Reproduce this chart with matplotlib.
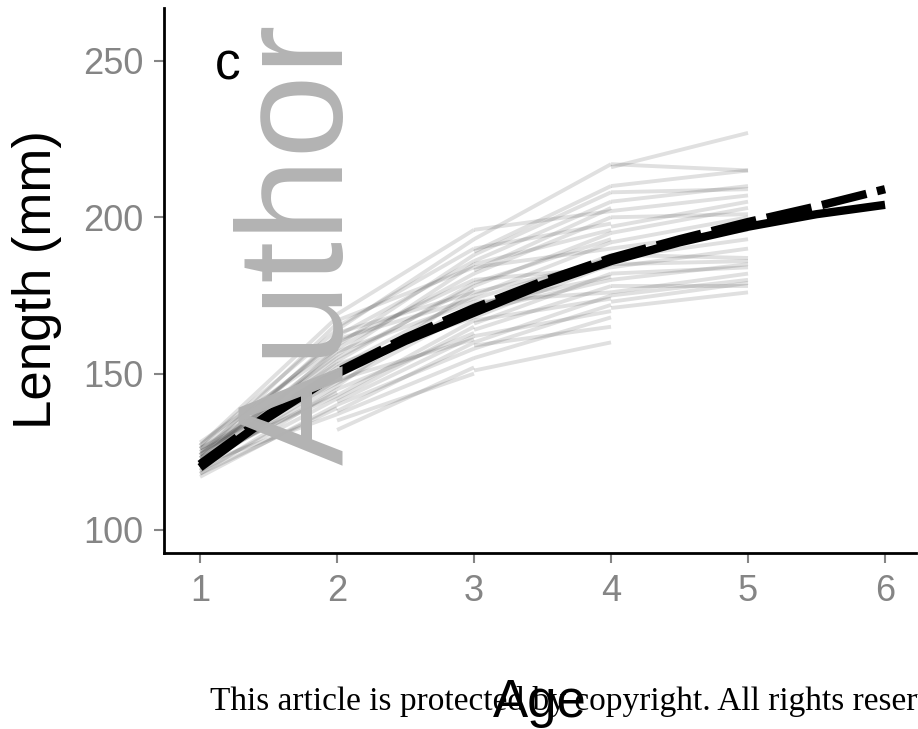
"""Individual back-calculated growth paths with mean growth curves (panel c)."""
import matplotlib

matplotlib.use("Agg")
import matplotlib.pyplot as plt  # noqa: E402

# individual growth segments, one pair of lists per age interval (length in mm)
seg_1_2_start = [117, 118, 119, 120, 120, 121, 122, 122, 123, 124, 124, 125, 126, 126,
                 127, 128, 119, 121, 123, 125, 118, 120, 122, 124, 126, 127, 121, 123]
seg_1_2_end = [140, 145, 152, 148, 158, 137, 150, 162, 143, 155, 166, 147, 160, 153,
               168, 158, 142, 146, 156, 150, 139, 154, 144, 161, 149, 164, 151, 157]

seg_2_3_start = [132, 135, 138, 140, 142, 145, 147, 148, 150, 152, 153, 155, 157, 158, 160,
                 162, 163, 165, 167, 169, 137, 143, 149, 154, 159, 164, 146, 141, 156, 161]
seg_2_3_end = [152, 150, 160, 158, 165, 163, 170, 161, 172, 175, 168, 178, 173, 182, 180,
               186, 176, 190, 184, 196, 155, 167, 171, 179, 188, 193, 177, 162, 185, 174]

seg_3_4_start = [151, 155, 158, 160, 162, 164, 166, 168, 170, 171, 173, 175, 176, 178, 180,
                 182, 184, 186, 188, 190, 193, 196, 167, 174, 179, 185, 159, 172, 183, 189]
seg_3_4_end = [160, 168, 172, 175, 170, 178, 182, 185, 180, 188, 176, 192, 186, 195, 184,
               200, 190, 205, 208, 198, 217, 202, 174, 187, 193, 196, 165, 181, 203, 210]

seg_4_5_start = [171, 173, 175, 176, 178, 180, 182, 184, 185, 187, 188,
                 190, 192, 195, 197, 200, 202, 205, 208, 210, 216, 217]
seg_4_5_end = [176, 179, 180, 182, 178, 185, 184, 190, 186, 193, 187,
               196, 200, 203, 205, 201, 207, 210, 209, 215, 227, 215]

# mean growth curves
curve_age = [1, 1.5, 2, 2.5, 3, 3.5, 4, 4.5, 5, 5.5, 6]
curve_solid = [120, 136, 150, 160.5, 169.5, 178.5, 186, 192, 197, 201, 204]
curve_dashed = [121, 137, 150.5, 161.5, 171, 179.5, 187, 193, 198.5, 203.5, 209]

x_ticks = [1, 2, 3, 4, 5, 6]
y_ticks = [100, 150, 200, 250]

W, H = 918, 729
fig = plt.figure(figsize=(W / 100, H / 100), dpi=100)
ax = fig.add_axes([164 / W, 1 - 553 / H, (916 - 164) / W, (553 - 8) / H])

# watermark behind everything
fig.text(343 / W, 1 - 465 / H, "Author", rotation=90, rotation_mode="anchor",
         ha="left", va="baseline", fontsize=108, color="#b3b3b3",
         family="Liberation Sans", zorder=0)
ax.set_facecolor("none")

intervals = [(1, seg_1_2_start, seg_1_2_end), (2, seg_2_3_start, seg_2_3_end),
             (3, seg_3_4_start, seg_3_4_end), (4, seg_4_5_start, seg_4_5_end)]
for a0, starts, ends in intervals:
    for s, e in zip(starts, ends):
        ax.plot([a0, a0 + 1], [s, e], color="black", alpha=0.12, lw=2.8,
                solid_capstyle="butt", zorder=2)

ax.plot(curve_age, curve_solid, color="black", lw=6, solid_capstyle="butt", zorder=3)
ax.plot(curve_age, curve_dashed, color="black", lw=6, ls=(0, (5.5, 1.3)),
        dash_capstyle="butt", zorder=3)

ax.set_xlim(0.737, 6.226)
ax.set_ylim(92.64, 266.95)
ax.set_xticks(x_ticks)
ax.set_yticks(y_ticks)
ax.tick_params(colors="#858585", labelcolor="#858585", labelsize=26, width=1.5,
               length=7, pad=8)
for lab in ax.get_xticklabels() + ax.get_yticklabels():
    lab.set_family("Liberation Sans")
for side in ("top", "right"):
    ax.spines[side].set_visible(False)
for side in ("left", "bottom"):
    ax.spines[side].set_linewidth(2)

fig.text(37 / W, 1 - 280 / H, "Length (mm)", rotation=90, ha="center", va="center",
         fontsize=38, family="Liberation Sans")
fig.text(540 / W, 1 - 717 / H, "Age", ha="center", va="baseline", fontsize=38,
         family="Liberation Sans", zorder=5)
fig.text(215 / W, 1 - 80 / H, "c", ha="left", va="baseline", fontsize=37,
         family="Liberation Sans")
fig.text(210 / W, 1 - 710 / H, "This article is protected by copyright. All rights reserved.",
         ha="left", va="baseline", fontsize=24, family="Liberation Serif", zorder=4)

fig.savefig("out.png", dpi=100)
